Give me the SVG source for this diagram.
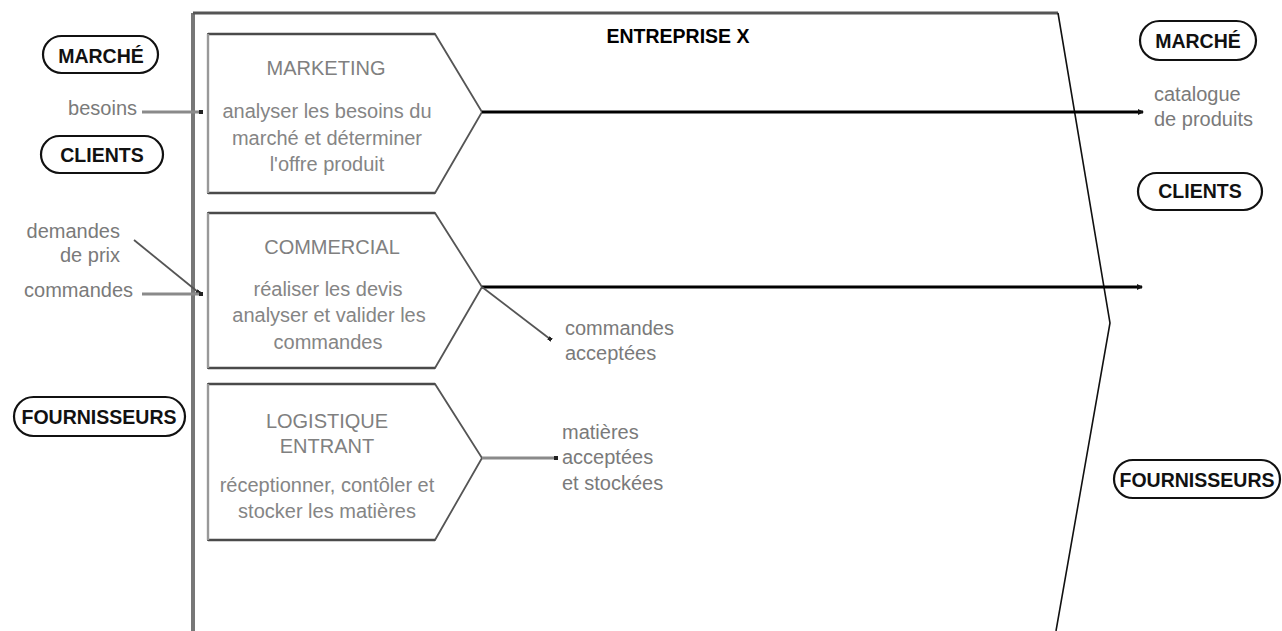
<svg xmlns="http://www.w3.org/2000/svg" width="1282" height="631" viewBox="0 0 1282 631">
  <defs>
    <style>
      .lbl { font-family: "Liberation Sans", Arial, sans-serif; font-size: 20px; fill: #7a7a7a; }
      .box-title { font-family: "Liberation Sans", Arial, sans-serif; font-size: 20px; fill: #808080; text-anchor: middle; }
      .box-text { font-family: "Liberation Sans", Arial, sans-serif; font-size: 20px; fill: #858585; text-anchor: middle; }
      .pill rect { fill: #fff; stroke: #111; stroke-width: 2.2; }
      .pill text { font-family: "Liberation Sans", Arial, sans-serif; font-weight: bold; font-size: 19.5px; fill: #111; text-anchor: middle; }
      .proc polygon { fill: #fff; stroke: #555; stroke-width: 1.8; }
      .proc .edge-h { stroke: #4a4a4a; stroke-width: 2.4; }
      .proc .edge-l { stroke: #999; stroke-width: 2.4; }
      .flow-main { stroke: #000; stroke-width: 3; fill: none; }
      .flow-grey { stroke: #8a8a8a; stroke-width: 3; fill: none; }
      .flow-thin { stroke: #555; stroke-width: 1.8; fill: none; }
    </style>
    <marker id="tip" viewBox="0 0 6 6" refX="5" refY="3" markerWidth="6" markerHeight="6" markerUnits="userSpaceOnUse" orient="auto">
      <path d="M0,0 L6,3 L0,6 Z" fill="#111"/>
    </marker>
    <marker id="dot" viewBox="0 0 4 4" refX="2" refY="2" markerWidth="4" markerHeight="4" markerUnits="userSpaceOnUse" orient="auto">
      <rect x="0" y="0" width="4" height="4" fill="#222"/>
    </marker>
  </defs>

  <rect width="1282" height="631" fill="#fff"/>

  <!-- company boundary -->
  <g id="entreprise">
    <line x1="193" y1="13" x2="193" y2="631" stroke="#777" stroke-width="4"/>
    <line x1="193" y1="13" x2="1058" y2="13" stroke="#555" stroke-width="3"/>
    <polyline points="1058,13 1110,323 1056,631" fill="none" stroke="#111" stroke-width="1.6"/>
    <text x="678" y="43" font-family="Liberation Sans, Arial, sans-serif" font-weight="bold" font-size="19.5" fill="#000" text-anchor="middle">ENTREPRISE X</text>
  </g>

  <!-- process: marketing -->
  <g id="marketing" class="proc">
    <polygon points="208,34 435,34 482,112 435,193 208,193"/>
    <line class="edge-h" x1="208" y1="34" x2="435" y2="34"/>
    <line class="edge-h" x1="208" y1="193" x2="435" y2="193"/>
    <line class="edge-l" x1="208" y1="34" x2="208" y2="193"/>
    <text class="box-title" x="326" y="75">MARKETING</text>
    <text class="box-text" x="327" y="118">analyser les besoins du</text>
    <text class="box-text" x="327" y="145">marché et déterminer</text>
    <text class="box-text" x="327" y="171">l'offre produit</text>
  </g>

  <!-- process: commercial -->
  <g id="commercial" class="proc">
    <polygon points="208,213 435,213 482,287 435,368 208,368"/>
    <line class="edge-h" x1="208" y1="213" x2="435" y2="213"/>
    <line class="edge-h" x1="208" y1="368" x2="435" y2="368"/>
    <line class="edge-l" x1="208" y1="213" x2="208" y2="368"/>
    <text class="box-title" x="332" y="254">COMMERCIAL</text>
    <text class="box-text" x="328" y="296">réaliser les devis</text>
    <text class="box-text" x="329" y="322">analyser et valider les</text>
    <text class="box-text" x="328" y="349">commandes</text>
  </g>

  <!-- process: logistique entrant -->
  <g id="logistique" class="proc">
    <polygon points="208,384 435,384 482,458 435,540 208,540"/>
    <line class="edge-h" x1="208" y1="384" x2="435" y2="384"/>
    <line class="edge-h" x1="208" y1="540" x2="435" y2="540"/>
    <line class="edge-l" x1="208" y1="384" x2="208" y2="540"/>
    <text class="box-title" x="327" y="428">LOGISTIQUE</text>
    <text class="box-title" x="327" y="453">ENTRANT</text>
    <text class="box-text" x="327" y="492">réceptionner, contôler et</text>
    <text class="box-text" x="327" y="518">stocker les matières</text>
  </g>

  <!-- external actors, left -->
  <g id="marche-left" class="pill">
    <rect x="43" y="36" width="115" height="37" rx="18.5"/>
    <text x="101" y="63">MARCHÉ</text>
  </g>
  <g id="clients-left" class="pill">
    <rect x="41" y="136" width="122" height="37" rx="18.5"/>
    <text x="102" y="162">CLIENTS</text>
  </g>
  <g id="fournisseurs-left" class="pill">
    <rect x="14" y="397" width="171" height="39" rx="19.5"/>
    <text x="99" y="424">FOURNISSEURS</text>
  </g>

  <!-- external actors, right -->
  <g id="marche-right" class="pill">
    <rect x="1140" y="21" width="116" height="39" rx="19.5"/>
    <text x="1198" y="48">MARCHÉ</text>
  </g>
  <g id="clients-right" class="pill">
    <rect x="1138" y="173" width="124" height="37" rx="18.5"/>
    <text x="1200" y="198">CLIENTS</text>
  </g>
  <g id="fournisseurs-right" class="pill">
    <rect x="1114" y="460" width="166" height="38" rx="19"/>
    <text x="1197" y="487">FOURNISSEURS</text>
  </g>

  <!-- flow labels -->
  <g id="labels">
    <text class="lbl" x="137" y="115" text-anchor="end">besoins</text>
    <text class="lbl" x="120" y="238" text-anchor="end">demandes</text>
    <text class="lbl" x="120" y="262" text-anchor="end">de prix</text>
    <text class="lbl" x="133" y="297" text-anchor="end">commandes</text>
    <text class="lbl" x="1154" y="101">catalogue</text>
    <text class="lbl" x="1154" y="126">de produits</text>
    <text class="lbl" x="565" y="335">commandes</text>
    <text class="lbl" x="565" y="360">acceptées</text>
    <text class="lbl" x="562" y="439">matières</text>
    <text class="lbl" x="562" y="464">acceptées</text>
    <text class="lbl" x="562" y="490">et stockées</text>
  </g>

  <!-- connectors -->
  <g id="connectors">
    <line class="flow-grey" x1="142" y1="112" x2="201" y2="112" marker-end="url(#dot)"/>
    <line class="flow-thin" x1="134" y1="240" x2="198" y2="292" marker-end="url(#dot)"/>
    <line class="flow-grey" x1="142" y1="294" x2="201" y2="294" marker-end="url(#dot)"/>
    <line class="flow-main" x1="482" y1="112" x2="1143" y2="112" marker-end="url(#tip)"/>
    <line class="flow-main" x1="482" y1="287" x2="1142" y2="287" marker-end="url(#tip)"/>
    <line class="flow-thin" x1="482" y1="287" x2="550" y2="339" marker-end="url(#dot)"/>
    <line class="flow-grey" x1="482" y1="458" x2="556" y2="458" marker-end="url(#dot)"/>
  </g>
</svg>
